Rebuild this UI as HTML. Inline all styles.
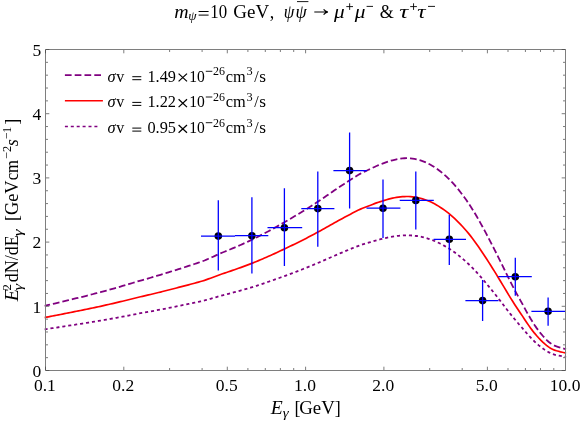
<!DOCTYPE html>
<html><head><meta charset="utf-8"><title>plot</title>
<style>html,body{margin:0;padding:0;background:#fff;}svg{display:block;will-change:transform;}text{font-family:"Liberation Serif",serif;fill:#000;font-kerning:none;}</style></head><body>
<svg width="581" height="422" viewBox="0 0 581 422">
<rect width="581" height="422" fill="#fff"/>
<clipPath id="c"><rect x="44.3" y="49.5" width="522.2" height="321.0"/></clipPath>
<g clip-path="url(#c)" fill="none" stroke-width="1.7">
<path d="M44.5,305.93 L46.5,305.46 L48.5,304.99 L50.5,304.51 L52.5,304.04 L54.5,303.56 L56.5,303.08 L58.5,302.61 L60.5,302.13 L62.5,301.65 L64.5,301.16 L66.5,300.68 L68.5,300.20 L70.5,299.71 L72.5,299.22 L74.5,298.73 L76.5,298.24 L78.5,297.75 L80.5,297.26 L82.5,296.76 L84.5,296.26 L86.5,295.76 L88.5,295.26 L90.5,294.75 L92.5,294.25 L94.5,293.74 L96.5,293.23 L98.5,292.71 L100.5,292.19 L102.5,291.63 L104.5,291.08 L106.5,290.52 L108.5,289.97 L110.5,289.40 L112.5,288.84 L114.5,288.27 L116.5,287.70 L118.5,287.12 L120.5,286.54 L122.5,285.96 L124.5,285.38 L126.5,284.79 L128.5,284.20 L130.5,283.60 L132.5,283.00 L134.5,282.40 L136.5,281.79 L138.5,281.18 L140.5,280.58 L142.5,280.02 L144.5,279.46 L146.5,278.89 L148.5,278.32 L150.5,277.74 L152.5,277.16 L154.5,276.57 L156.5,275.98 L158.5,275.39 L160.5,274.79 L162.5,274.19 L164.5,273.58 L166.5,272.96 L168.5,272.34 L170.5,271.72 L172.5,271.09 L174.5,270.45 L176.5,269.81 L178.5,269.17 L180.5,268.52 L182.5,267.89 L184.5,267.26 L186.5,266.62 L188.5,265.97 L190.5,265.32 L192.5,264.66 L194.5,264.00 L196.5,263.33 L198.5,262.65 L200.5,261.97 L202.5,261.28 L204.5,260.54 L206.5,259.66 L208.5,258.77 L210.5,257.87 L212.5,256.97 L214.5,256.07 L216.5,255.15 L218.5,254.23 L220.5,253.33 L222.5,252.53 L224.5,251.72 L226.5,250.90 L228.5,250.08 L230.5,249.25 L232.5,248.40 L234.5,247.55 L236.5,246.70 L238.5,245.83 L240.5,244.95 L242.5,244.07 L244.5,243.17 L246.5,242.27 L248.5,241.36 L250.5,240.44 L252.5,239.49 L254.5,238.49 L256.5,237.47 L258.5,236.45 L260.5,235.42 L262.5,234.38 L264.5,233.32 L266.5,232.26 L268.5,231.19 L270.5,230.10 L272.5,229.00 L274.5,227.90 L276.5,226.78 L278.5,225.65 L280.5,224.51 L282.5,223.36 L284.5,222.20 L286.5,221.05 L288.5,219.90 L290.5,218.73 L292.5,217.55 L294.5,216.35 L296.5,215.16 L298.5,213.96 L300.5,212.75 L302.5,211.53 L304.5,210.29 L306.5,209.04 L308.5,207.78 L310.5,206.51 L312.5,205.22 L314.5,203.91 L316.5,202.60 L318.5,201.26 L320.5,199.92 L322.5,198.57 L324.5,197.20 L326.5,195.83 L328.5,194.45 L330.5,193.08 L332.5,191.71 L334.5,190.35 L336.5,188.99 L338.5,187.64 L340.5,186.29 L342.5,184.95 L344.5,183.63 L346.5,182.32 L348.5,181.02 L350.5,179.74 L352.5,178.47 L354.5,177.22 L356.5,175.99 L358.5,174.79 L360.5,173.65 L362.5,172.64 L364.5,171.65 L366.5,170.70 L368.5,169.78 L370.5,168.87 L372.5,167.89 L374.5,166.95 L376.5,166.05 L378.5,165.20 L380.5,164.40 L382.5,163.65 L384.5,162.88 L386.5,162.14 L388.5,161.45 L390.5,160.82 L392.5,160.26 L394.5,159.76 L396.5,159.32 L398.5,158.95 L400.5,158.65 L402.5,158.42 L404.5,158.27 L406.5,158.19 L408.5,158.24 L410.5,158.38 L412.5,158.60 L414.5,158.91 L416.5,159.31 L418.5,159.79 L420.5,160.37 L422.5,161.06 L424.5,161.84 L426.5,162.71 L428.5,163.68 L430.5,164.74 L432.5,165.90 L434.5,167.16 L436.5,168.52 L438.5,169.98 L440.5,171.53 L442.5,173.13 L444.5,174.83 L446.5,176.64 L448.5,178.56 L450.5,180.59 L452.5,182.72 L454.5,184.96 L456.5,187.28 L458.5,189.68 L460.5,192.18 L462.5,194.82 L464.5,197.54 L466.5,200.35 L468.5,203.26 L470.5,206.28 L472.5,209.42 L474.5,212.68 L476.5,216.06 L478.5,219.54 L480.5,223.10 L482.5,226.74 L484.5,230.44 L486.5,234.19 L488.5,237.99 L490.5,241.82 L492.5,245.70 L494.5,249.62 L496.5,253.59 L498.5,257.59 L500.5,261.63 L502.5,265.69 L504.5,269.77 L506.5,273.85 L508.5,277.92 L510.5,281.93 L512.5,285.79 L514.5,289.60 L516.5,293.35 L518.5,297.04 L520.5,300.65 L522.5,304.16 L524.5,307.88 L526.5,311.58 L528.5,315.14 L530.5,318.57 L532.5,321.83 L534.5,324.94 L536.5,327.87 L538.5,330.59 L540.5,333.13 L542.5,335.52 L544.5,337.73 L546.5,339.79 L548.5,341.70 L550.5,343.27 L552.5,344.52 L554.5,345.66 L556.5,346.44 L558.5,347.05 L560.5,347.70 L562.5,348.28 L564.5,348.80 L566.2,349.23" stroke="#800080" stroke-width="1.8" stroke-dasharray="6.75 2.98" stroke-dashoffset="1.1"/>
<path d="M44.5,329.38 L46.5,329.08 L48.5,328.78 L50.5,328.47 L52.5,328.17 L54.5,327.87 L56.5,327.56 L58.5,327.26 L60.5,326.95 L62.5,326.65 L64.5,326.34 L66.5,326.03 L68.5,325.72 L70.5,325.42 L72.5,325.10 L74.5,324.79 L76.5,324.48 L78.5,324.17 L80.5,323.85 L82.5,323.54 L84.5,323.22 L86.5,322.90 L88.5,322.58 L90.5,322.26 L92.5,321.94 L94.5,321.61 L96.5,321.28 L98.5,320.96 L100.5,320.62 L102.5,320.27 L104.5,319.92 L106.5,319.56 L108.5,319.21 L110.5,318.85 L112.5,318.49 L114.5,318.13 L116.5,317.76 L118.5,317.40 L120.5,317.03 L122.5,316.66 L124.5,316.29 L126.5,315.91 L128.5,315.53 L130.5,315.15 L132.5,314.77 L134.5,314.39 L136.5,314.00 L138.5,313.61 L140.5,313.23 L142.5,312.87 L144.5,312.52 L146.5,312.15 L148.5,311.79 L150.5,311.42 L152.5,311.05 L154.5,310.68 L156.5,310.30 L158.5,309.93 L160.5,309.54 L162.5,309.16 L164.5,308.77 L166.5,308.38 L168.5,307.99 L170.5,307.59 L172.5,307.19 L174.5,306.78 L176.5,306.37 L178.5,305.96 L180.5,305.55 L182.5,305.15 L184.5,304.75 L186.5,304.34 L188.5,303.93 L190.5,303.51 L192.5,303.09 L194.5,302.67 L196.5,302.24 L198.5,301.81 L200.5,301.38 L202.5,300.94 L204.5,300.47 L206.5,299.91 L208.5,299.34 L210.5,298.77 L212.5,298.20 L214.5,297.62 L216.5,297.04 L218.5,296.45 L220.5,295.88 L222.5,295.37 L224.5,294.85 L226.5,294.33 L228.5,293.81 L230.5,293.27 L232.5,292.74 L234.5,292.20 L236.5,291.65 L238.5,291.10 L240.5,290.54 L242.5,289.98 L244.5,289.41 L246.5,288.83 L248.5,288.25 L250.5,287.66 L252.5,287.06 L254.5,286.42 L256.5,285.78 L258.5,285.13 L260.5,284.47 L262.5,283.80 L264.5,283.13 L266.5,282.46 L268.5,281.77 L270.5,281.08 L272.5,280.38 L274.5,279.68 L276.5,278.97 L278.5,278.25 L280.5,277.52 L282.5,276.79 L284.5,276.05 L286.5,275.32 L288.5,274.58 L290.5,273.84 L292.5,273.09 L294.5,272.33 L296.5,271.57 L298.5,270.80 L300.5,270.03 L302.5,269.25 L304.5,268.47 L306.5,267.67 L308.5,266.87 L310.5,266.05 L312.5,265.23 L314.5,264.40 L316.5,263.56 L318.5,262.72 L320.5,261.86 L322.5,261.00 L324.5,260.13 L326.5,259.26 L328.5,258.38 L330.5,257.50 L332.5,256.63 L334.5,255.77 L336.5,254.90 L338.5,254.04 L340.5,253.18 L342.5,252.33 L344.5,251.48 L346.5,250.65 L348.5,249.82 L350.5,249.01 L352.5,248.20 L354.5,247.40 L356.5,246.62 L358.5,245.86 L360.5,245.13 L362.5,244.48 L364.5,243.86 L366.5,243.25 L368.5,242.67 L370.5,242.08 L372.5,241.46 L374.5,240.86 L376.5,240.29 L378.5,239.75 L380.5,239.24 L382.5,238.76 L384.5,238.27 L386.5,237.80 L388.5,237.36 L390.5,236.96 L392.5,236.60 L394.5,236.28 L396.5,236.00 L398.5,235.77 L400.5,235.58 L402.5,235.43 L404.5,235.33 L406.5,235.28 L408.5,235.31 L410.5,235.40 L412.5,235.55 L414.5,235.74 L416.5,235.99 L418.5,236.30 L420.5,236.67 L422.5,237.11 L424.5,237.60 L426.5,238.16 L428.5,238.78 L430.5,239.45 L432.5,240.19 L434.5,241.00 L436.5,241.86 L438.5,242.79 L440.5,243.78 L442.5,244.80 L444.5,245.88 L446.5,247.03 L448.5,248.26 L450.5,249.55 L452.5,250.91 L454.5,252.33 L456.5,253.81 L458.5,255.34 L460.5,256.93 L462.5,258.61 L464.5,260.34 L466.5,262.13 L468.5,263.99 L470.5,265.91 L472.5,267.91 L474.5,269.99 L476.5,272.14 L478.5,274.35 L480.5,276.62 L482.5,278.94 L484.5,281.30 L486.5,283.69 L488.5,286.10 L490.5,288.55 L492.5,291.02 L494.5,293.52 L496.5,296.04 L498.5,298.59 L500.5,301.16 L502.5,303.75 L504.5,306.35 L506.5,308.95 L508.5,311.54 L510.5,314.09 L512.5,316.55 L514.5,318.98 L516.5,321.37 L518.5,323.72 L520.5,326.01 L522.5,328.25 L524.5,330.62 L526.5,332.97 L528.5,335.24 L530.5,337.42 L532.5,339.51 L534.5,341.48 L536.5,343.35 L538.5,345.08 L540.5,346.70 L542.5,348.22 L544.5,349.63 L546.5,350.94 L548.5,352.16 L550.5,353.16 L552.5,353.96 L554.5,354.68 L556.5,355.18 L558.5,355.57 L560.5,355.98 L562.5,356.35 L564.5,356.68 L566.2,356.95" stroke="#800080" stroke-width="1.8" stroke-dasharray="3.1 2.9"/>
<path d="M44.5,317.58 L46.5,317.19 L48.5,316.80 L50.5,316.41 L52.5,316.02 L54.5,315.63 L56.5,315.24 L58.5,314.85 L60.5,314.46 L62.5,314.06 L64.5,313.67 L66.5,313.27 L68.5,312.87 L70.5,312.48 L72.5,312.08 L74.5,311.68 L76.5,311.27 L78.5,310.87 L80.5,310.46 L82.5,310.06 L84.5,309.65 L86.5,309.24 L88.5,308.83 L90.5,308.41 L92.5,308.00 L94.5,307.58 L96.5,307.16 L98.5,306.74 L100.5,306.31 L102.5,305.86 L104.5,305.40 L106.5,304.95 L108.5,304.49 L110.5,304.03 L112.5,303.56 L114.5,303.10 L116.5,302.63 L118.5,302.16 L120.5,301.68 L122.5,301.21 L124.5,300.73 L126.5,300.24 L128.5,299.76 L130.5,299.27 L132.5,298.78 L134.5,298.28 L136.5,297.79 L138.5,297.28 L140.5,296.79 L142.5,296.33 L144.5,295.87 L146.5,295.41 L148.5,294.94 L150.5,294.47 L152.5,293.99 L154.5,293.51 L156.5,293.03 L158.5,292.54 L160.5,292.05 L162.5,291.55 L164.5,291.05 L166.5,290.55 L168.5,290.04 L170.5,289.53 L172.5,289.01 L174.5,288.49 L176.5,287.97 L178.5,287.44 L180.5,286.91 L182.5,286.40 L184.5,285.88 L186.5,285.35 L188.5,284.82 L190.5,284.29 L192.5,283.75 L194.5,283.20 L196.5,282.65 L198.5,282.10 L200.5,281.54 L202.5,280.97 L204.5,280.37 L206.5,279.64 L208.5,278.92 L210.5,278.18 L212.5,277.45 L214.5,276.70 L216.5,275.95 L218.5,275.19 L220.5,274.46 L222.5,273.80 L224.5,273.14 L226.5,272.47 L228.5,271.79 L230.5,271.11 L232.5,270.42 L234.5,269.72 L236.5,269.02 L238.5,268.31 L240.5,267.59 L242.5,266.87 L244.5,266.13 L246.5,265.39 L248.5,264.65 L250.5,263.89 L252.5,263.11 L254.5,262.29 L256.5,261.46 L258.5,260.62 L260.5,259.78 L262.5,258.92 L264.5,258.06 L266.5,257.19 L268.5,256.31 L270.5,255.42 L272.5,254.52 L274.5,253.61 L276.5,252.70 L278.5,251.77 L280.5,250.84 L282.5,249.89 L284.5,248.94 L286.5,248.00 L288.5,247.06 L290.5,246.10 L292.5,245.13 L294.5,244.15 L296.5,243.17 L298.5,242.19 L300.5,241.20 L302.5,240.20 L304.5,239.18 L306.5,238.16 L308.5,237.12 L310.5,236.08 L312.5,235.02 L314.5,233.95 L316.5,232.87 L318.5,231.78 L320.5,230.68 L322.5,229.57 L324.5,228.45 L326.5,227.33 L328.5,226.20 L330.5,225.07 L332.5,223.95 L334.5,222.84 L336.5,221.72 L338.5,220.61 L340.5,219.51 L342.5,218.41 L344.5,217.33 L346.5,216.25 L348.5,215.19 L350.5,214.14 L352.5,213.10 L354.5,212.07 L356.5,211.07 L358.5,210.09 L360.5,209.15 L362.5,208.32 L364.5,207.51 L366.5,206.73 L368.5,205.98 L370.5,205.23 L372.5,204.42 L374.5,203.65 L376.5,202.92 L378.5,202.22 L380.5,201.57 L382.5,200.95 L384.5,200.32 L386.5,199.71 L388.5,199.15 L390.5,198.64 L392.5,198.17 L394.5,197.76 L396.5,197.40 L398.5,197.10 L400.5,196.85 L402.5,196.67 L404.5,196.54 L406.5,196.48 L408.5,196.51 L410.5,196.63 L412.5,196.82 L414.5,197.07 L416.5,197.39 L418.5,197.79 L420.5,198.26 L422.5,198.82 L424.5,199.46 L426.5,200.18 L428.5,200.97 L430.5,201.84 L432.5,202.80 L434.5,203.83 L436.5,204.94 L438.5,206.14 L440.5,207.41 L442.5,208.72 L444.5,210.12 L446.5,211.60 L448.5,213.17 L450.5,214.84 L452.5,216.59 L454.5,218.41 L456.5,220.32 L458.5,222.29 L460.5,224.34 L462.5,226.50 L464.5,228.73 L466.5,231.03 L468.5,233.42 L470.5,235.89 L472.5,238.46 L474.5,241.14 L476.5,243.91 L478.5,246.76 L480.5,249.68 L482.5,252.67 L484.5,255.70 L486.5,258.77 L488.5,261.88 L490.5,265.03 L492.5,268.21 L494.5,271.42 L496.5,274.67 L498.5,277.95 L500.5,281.26 L502.5,284.59 L504.5,287.93 L506.5,291.28 L508.5,294.62 L510.5,297.90 L512.5,301.06 L514.5,304.19 L516.5,307.27 L518.5,310.29 L520.5,313.25 L522.5,316.12 L524.5,319.17 L526.5,322.20 L528.5,325.13 L530.5,327.93 L532.5,330.61 L534.5,333.16 L536.5,335.55 L538.5,337.79 L540.5,339.87 L542.5,341.83 L544.5,343.64 L546.5,345.33 L548.5,346.89 L550.5,348.18 L552.5,349.21 L554.5,350.14 L556.5,350.78 L558.5,351.28 L560.5,351.81 L562.5,352.29 L564.5,352.71 L566.2,353.07" stroke="#ff0000"/>
</g>
<g fill="#000">
<circle cx="218.3" cy="236.1" r="3.8"/>
<circle cx="251.9" cy="235.7" r="3.8"/>
<circle cx="284.4" cy="227.7" r="3.8"/>
<circle cx="317.8" cy="208.6" r="3.8"/>
<circle cx="349.6" cy="170.6" r="3.8"/>
<circle cx="383.0" cy="208.2" r="3.8"/>
<circle cx="415.8" cy="200.4" r="3.8"/>
<circle cx="449.3" cy="239.3" r="3.8"/>
<circle cx="482.6" cy="300.6" r="3.8"/>
<circle cx="515.3" cy="276.7" r="3.8"/>
<circle cx="548.1" cy="311.3" r="3.8"/>
</g>
<g stroke="#0000ff" stroke-width="1.3" clip-path="url(#c)">
<path d="M201.0,236.1H235.0M218.3,200.3V270.6"/>
<path d="M235.0,235.7H268.3M251.9,197.2V273.4"/>
<path d="M267.5,227.7H302.2M284.4,188.3V266.1"/>
<path d="M301.3,208.6H334.4M317.8,171.4V246.7"/>
<path d="M333.4,170.6H367.0M349.6,132.5V208.4"/>
<path d="M366.5,208.2H400.4M383.0,179.5V237.9"/>
<path d="M399.7,200.4H433.8M415.8,171.4V229.6"/>
<path d="M433.6,239.3H466.0M449.3,214.8V264.9"/>
<path d="M465.4,300.6H498.5M482.6,280.0V321.0"/>
<path d="M498.3,276.7H531.8M515.3,257.8V295.7"/>
<path d="M531.4,311.3H565.7M548.1,297.4V325.8"/>
</g>
<rect x="45.5" y="49.5" width="520" height="321.0" stroke="#7e7e7e" stroke-width="1" fill="none"/>
<path d="M46.0,370.50h3.3M565.0,370.50h-3.3M46.0,357.66h2.0M565.0,357.66h-2.0M46.0,344.82h2.0M565.0,344.82h-2.0M46.0,331.98h2.0M565.0,331.98h-2.0M46.0,319.14h2.0M565.0,319.14h-2.0M46.0,306.30h3.3M565.0,306.30h-3.3M46.0,293.46h2.0M565.0,293.46h-2.0M46.0,280.62h2.0M565.0,280.62h-2.0M46.0,267.78h2.0M565.0,267.78h-2.0M46.0,254.94h2.0M565.0,254.94h-2.0M46.0,242.10h3.3M565.0,242.10h-3.3M46.0,229.26h2.0M565.0,229.26h-2.0M46.0,216.42h2.0M565.0,216.42h-2.0M46.0,203.58h2.0M565.0,203.58h-2.0M46.0,190.74h2.0M565.0,190.74h-2.0M46.0,177.90h3.3M565.0,177.90h-3.3M46.0,165.06h2.0M565.0,165.06h-2.0M46.0,152.22h2.0M565.0,152.22h-2.0M46.0,139.38h2.0M565.0,139.38h-2.0M46.0,126.54h2.0M565.0,126.54h-2.0M46.0,113.70h3.3M565.0,113.70h-3.3M46.0,100.86h2.0M565.0,100.86h-2.0M46.0,88.02h2.0M565.0,88.02h-2.0M46.0,75.18h2.0M565.0,75.18h-2.0M46.0,62.34h2.0M565.0,62.34h-2.0M46.0,49.50h3.3M565.0,49.50h-3.3M45.50,370.0v-3.3M45.50,50.0v3.3M123.80,370.0v-3.3M123.80,50.0v3.3M169.60,370.0v-2.0M169.60,50.0v2.0M202.10,370.0v-2.0M202.10,50.0v2.0M227.30,370.0v-3.3M227.30,50.0v3.3M247.90,370.0v-2.0M247.90,50.0v2.0M265.31,370.0v-2.0M265.31,50.0v2.0M280.39,370.0v-2.0M280.39,50.0v2.0M293.70,370.0v-2.0M293.70,50.0v2.0M305.60,370.0v-3.3M305.60,50.0v3.3M383.90,370.0v-3.3M383.90,50.0v3.3M429.70,370.0v-2.0M429.70,50.0v2.0M462.20,370.0v-2.0M462.20,50.0v2.0M487.40,370.0v-3.3M487.40,50.0v3.3M508.00,370.0v-2.0M508.00,50.0v2.0M525.41,370.0v-2.0M525.41,50.0v2.0M540.49,370.0v-2.0M540.49,50.0v2.0M553.80,370.0v-2.0M553.80,50.0v2.0" stroke="#444" stroke-width="0.7" fill="none"/>
<g font-size="17.5">
<text x="41.3" y="376.80" text-anchor="end">0</text>
<text x="41.3" y="312.60" text-anchor="end">1</text>
<text x="41.3" y="248.40" text-anchor="end">2</text>
<text x="41.3" y="184.20" text-anchor="end">3</text>
<text x="41.3" y="120.00" text-anchor="end">4</text>
<text x="41.3" y="55.80" text-anchor="end">5</text>
<text x="44.90" y="390.8" text-anchor="middle">0.1</text>
<text x="123.20" y="390.8" text-anchor="middle">0.2</text>
<text x="226.70" y="390.8" text-anchor="middle">0.5</text>
<text x="305.00" y="390.8" text-anchor="middle">1.0</text>
<text x="383.30" y="390.8" text-anchor="middle">2.0</text>
<text x="486.80" y="390.8" text-anchor="middle">5.0</text>
<text x="565.10" y="390.8" text-anchor="middle">10.0</text>
</g>
<text x="270.68" y="413.80" font-size="18" font-style="italic" textLength="11.99" lengthAdjust="spacingAndGlyphs">E</text>
<text x="282.78" y="416.60" font-size="12.8" font-style="italic" textLength="5.94" lengthAdjust="spacingAndGlyphs">γ</text>
<text x="294.56" y="413.80" font-size="18">[</text>
<text x="299.28" y="413.80" font-size="18" textLength="35.58" lengthAdjust="spacingAndGlyphs">GeV</text>
<text x="334.80" y="413.80" font-size="18">]</text>
<g transform="translate(0,301.8) rotate(-90)">
<text x="0.49" y="17.50" font-size="18" font-style="italic" textLength="12.29" lengthAdjust="spacingAndGlyphs">E</text>
<text x="11.42" y="10.50" font-size="12.8">2</text>
<text x="11.35" y="21.50" font-size="12.8" font-style="italic" textLength="6.63" lengthAdjust="spacingAndGlyphs">γ</text>
<text x="19.51" y="17.50" font-size="18">dN/dE</text>
<text x="65.54" y="21.50" font-size="12.8" font-style="italic" textLength="6.83" lengthAdjust="spacingAndGlyphs">γ</text>
<text x="80.86" y="17.50" font-size="18">[</text>
<text x="86.80" y="17.50" font-size="18" textLength="34.56" lengthAdjust="spacingAndGlyphs">GeV</text>
<text x="121.52" y="17.50" font-size="18" textLength="20.29" lengthAdjust="spacingAndGlyphs">cm</text>
<text x="142.84" y="10.50" font-size="12.8" textLength="13.09" lengthAdjust="spacingAndGlyphs">−2</text>
<text x="155.66" y="17.50" font-size="18" font-style="italic">s</text>
<text x="162.47" y="10.50" font-size="12.8" textLength="12.49" lengthAdjust="spacingAndGlyphs">−1</text>
<text x="176.95" y="17.50" font-size="18">]</text>
</g>
<text x="174.33" y="17.60" font-size="18" font-style="italic" textLength="14.35" lengthAdjust="spacingAndGlyphs">m</text>
<text x="188.15" y="19.60" font-size="12.8" font-style="italic" textLength="8.31" lengthAdjust="spacingAndGlyphs">ψ</text>
<path d="M198.60,11.50H208.60" stroke="#000" stroke-width="1.0" fill="none"/>
<path d="M198.60,15.10H208.60" stroke="#000" stroke-width="1.0" fill="none"/>
<text x="210.37" y="17.60" font-size="18" textLength="16.82" lengthAdjust="spacingAndGlyphs">10</text>
<text x="233.37" y="17.60" font-size="18" textLength="35.89" lengthAdjust="spacingAndGlyphs">GeV</text>
<text x="269.77" y="17.60" font-size="18">,</text>
<text x="283.74" y="17.60" font-size="18" font-style="italic" textLength="10.57" lengthAdjust="spacingAndGlyphs">ψ</text>
<text x="295.46" y="17.60" font-size="18" font-style="italic">ψ</text>
<path d="M297.00,1.60H308.40" stroke="#000" stroke-width="0.9" fill="none"/>
<path d="M314.3,12H327.3M323.6,9.3Q325.2,11.4 327.9,12Q325.2,12.6 323.6,14.7" stroke="#000" stroke-width="1.15" fill="none"/>
<text x="333.97" y="17.60" font-size="19" font-style="italic" textLength="10.69" lengthAdjust="spacingAndGlyphs">μ</text>
<path d="M346.3,6.6H353M349.65,3.3V9.9" stroke="#000" stroke-width="0.9" fill="none"/>
<text x="354.67" y="17.60" font-size="19" font-style="italic" textLength="10.69" lengthAdjust="spacingAndGlyphs">μ</text>
<path d="M366.60,6.40H373.00" stroke="#000" stroke-width="0.9" fill="none"/>
<text x="379.77" y="17.60" font-size="18">&amp;</text>
<text x="399.20" y="17.60" font-size="19.5" font-style="italic" textLength="8.99" lengthAdjust="spacingAndGlyphs">τ</text>
<path d="M410.2,6.6H416.9M413.55,3.3V9.9" stroke="#000" stroke-width="0.9" fill="none"/>
<text x="417.34" y="17.60" font-size="19.5" font-style="italic" textLength="8.31" lengthAdjust="spacingAndGlyphs">τ</text>
<path d="M428.00,6.40H435.00" stroke="#000" stroke-width="0.9" fill="none"/>
<path d="M64.9,75.1H101" stroke="#800080" stroke-width="1.6" fill="none" stroke-dasharray="6.7 3.1"/>
<text x="107.46" y="81.70" font-size="16" font-style="italic" textLength="8.07" lengthAdjust="spacingAndGlyphs">σ</text>
<text x="116.15" y="81.70" font-size="16">v</text>
<path d="M132.30,76.70H141.30" stroke="#000" stroke-width="1.0" fill="none"/>
<path d="M132.30,79.70H141.30" stroke="#000" stroke-width="1.0" fill="none"/>
<text x="147.41" y="81.70" font-size="16" textLength="28.61" lengthAdjust="spacingAndGlyphs">1.49</text>
<path d="M178.6,73.60L187.0,81.40M187.0,73.60L178.6,81.40" stroke="#000" stroke-width="1.25" fill="none"/>
<text x="189.18" y="81.70" font-size="16" textLength="15.56" lengthAdjust="spacingAndGlyphs">10</text>
<path d="M205.80,71.30H212.30" stroke="#000" stroke-width="0.9" fill="none"/>
<text x="213.02" y="75.10" font-size="11.6" textLength="11.98" lengthAdjust="spacingAndGlyphs">26</text>
<text x="225.83" y="81.70" font-size="16" textLength="19.98" lengthAdjust="spacingAndGlyphs">cm</text>
<text x="246.56" y="75.20" font-size="11.6" textLength="6.17" lengthAdjust="spacingAndGlyphs">3</text>
<text x="254.28" y="81.70" font-size="16">/</text>
<text x="259.34" y="81.70" font-size="16" textLength="6.74" lengthAdjust="spacingAndGlyphs">s</text>
<path d="M64.9,100.8H102.9" stroke="#ff0000" stroke-width="1.6" fill="none"/>
<text x="107.46" y="107.40" font-size="16" font-style="italic" textLength="8.07" lengthAdjust="spacingAndGlyphs">σ</text>
<text x="116.15" y="107.40" font-size="16">v</text>
<path d="M132.30,102.40H141.30" stroke="#000" stroke-width="1.0" fill="none"/>
<path d="M132.30,105.40H141.30" stroke="#000" stroke-width="1.0" fill="none"/>
<text x="147.41" y="107.40" font-size="16" textLength="28.61" lengthAdjust="spacingAndGlyphs">1.22</text>
<path d="M178.6,99.30L187.0,107.10M187.0,99.30L178.6,107.10" stroke="#000" stroke-width="1.25" fill="none"/>
<text x="189.18" y="107.40" font-size="16" textLength="15.56" lengthAdjust="spacingAndGlyphs">10</text>
<path d="M205.80,97.00H212.30" stroke="#000" stroke-width="0.9" fill="none"/>
<text x="213.02" y="100.80" font-size="11.6" textLength="11.98" lengthAdjust="spacingAndGlyphs">26</text>
<text x="225.83" y="107.40" font-size="16" textLength="19.98" lengthAdjust="spacingAndGlyphs">cm</text>
<text x="246.56" y="100.90" font-size="11.6" textLength="6.17" lengthAdjust="spacingAndGlyphs">3</text>
<text x="254.28" y="107.40" font-size="16">/</text>
<text x="259.34" y="107.40" font-size="16" textLength="6.74" lengthAdjust="spacingAndGlyphs">s</text>
<path d="M64.9,126.5H98" stroke="#800080" stroke-width="1.6" fill="none" stroke-dasharray="3 2.9"/>
<text x="107.46" y="133.10" font-size="16" font-style="italic" textLength="8.07" lengthAdjust="spacingAndGlyphs">σ</text>
<text x="116.15" y="133.10" font-size="16">v</text>
<path d="M132.30,128.10H141.30" stroke="#000" stroke-width="1.0" fill="none"/>
<path d="M132.30,131.10H141.30" stroke="#000" stroke-width="1.0" fill="none"/>
<text x="147.41" y="133.10" font-size="16" textLength="28.61" lengthAdjust="spacingAndGlyphs">0.95</text>
<path d="M178.6,125.00L187.0,132.80M187.0,125.00L178.6,132.80" stroke="#000" stroke-width="1.25" fill="none"/>
<text x="189.18" y="133.10" font-size="16" textLength="15.56" lengthAdjust="spacingAndGlyphs">10</text>
<path d="M205.80,122.70H212.30" stroke="#000" stroke-width="0.9" fill="none"/>
<text x="213.02" y="126.50" font-size="11.6" textLength="11.98" lengthAdjust="spacingAndGlyphs">26</text>
<text x="225.83" y="133.10" font-size="16" textLength="19.98" lengthAdjust="spacingAndGlyphs">cm</text>
<text x="246.56" y="126.60" font-size="11.6" textLength="6.17" lengthAdjust="spacingAndGlyphs">3</text>
<text x="254.28" y="133.10" font-size="16">/</text>
<text x="259.34" y="133.10" font-size="16" textLength="6.74" lengthAdjust="spacingAndGlyphs">s</text>
</svg></body></html>
